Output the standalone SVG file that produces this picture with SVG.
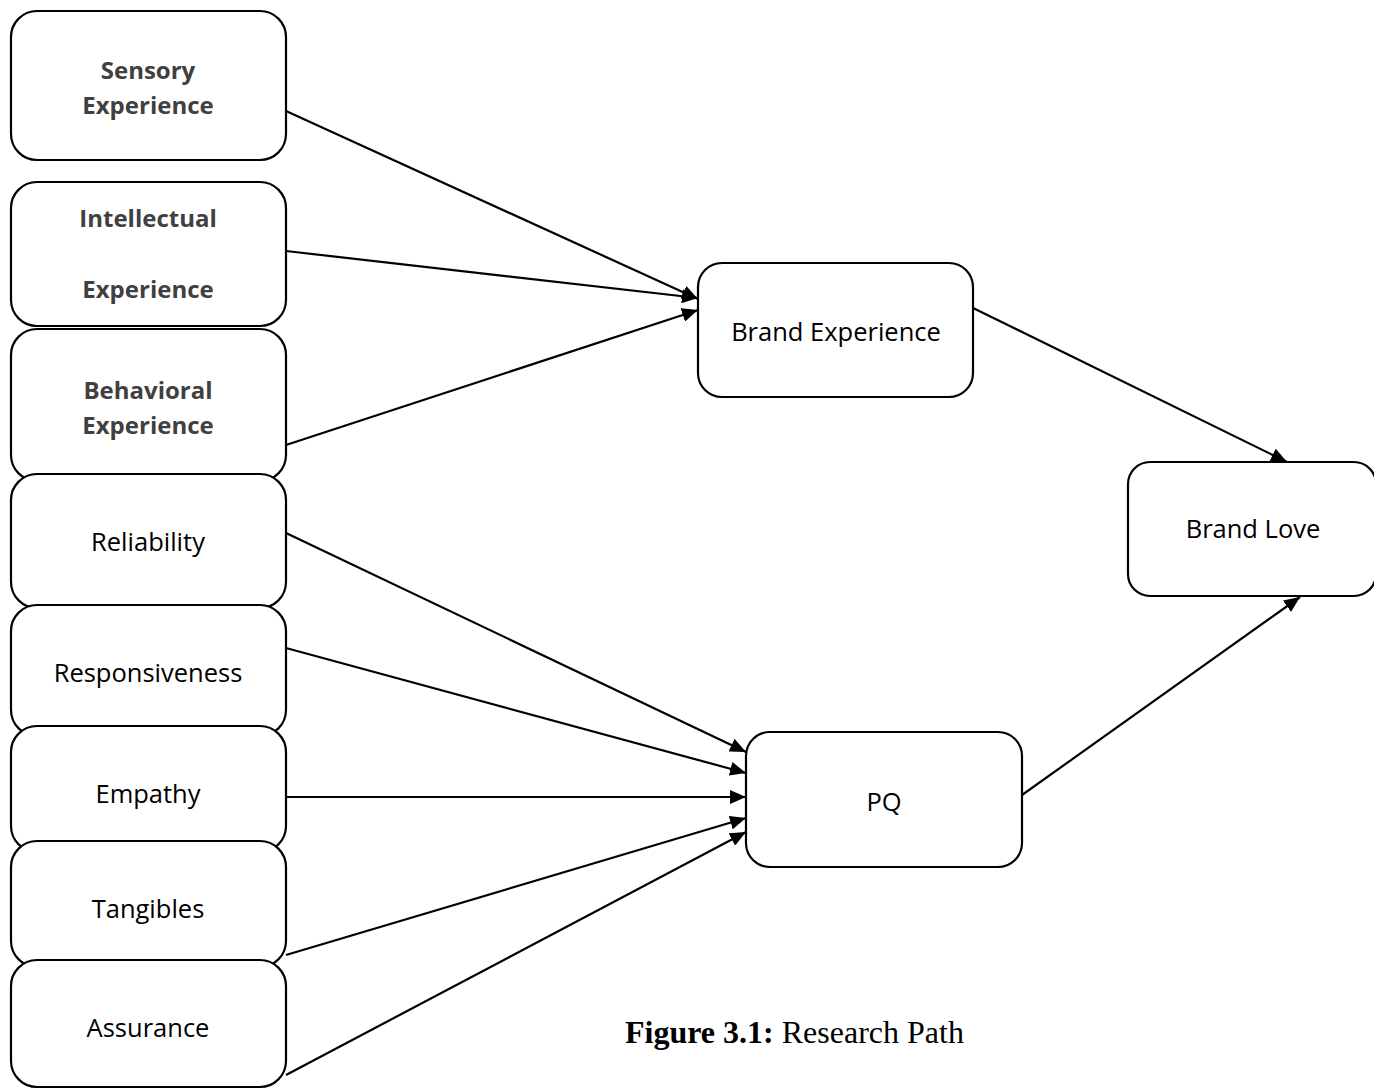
<svg xmlns="http://www.w3.org/2000/svg" width="1374" height="1090" viewBox="0 0 1374 1090">
<defs>
<marker id="ah" viewBox="0 0 16 14" refX="16" refY="7" markerWidth="16" markerHeight="14" markerUnits="userSpaceOnUse" orient="auto">
<path d="M0,0 L16,7 L0,14 z" fill="#000"/>
</marker>
<style>
.box{fill:#fff;stroke:#000;stroke-width:2.2}
.t{font-family:"Open Sans","Liberation Sans",sans-serif;font-size:25.5px;fill:#000;text-anchor:middle}
.b{font-weight:bold;font-size:24px;fill:#404040}
.c{stroke:#000;stroke-width:2.2;fill:none;marker-end:url(#ah)}
</style>
</defs>
<rect width="1374" height="1090" fill="#fff"/>
<g id="sensory"><rect class="box" x="11" y="11" width="275" height="149" rx="26"/><text class="t b" x="148" y="79">Sensory</text><text class="t b" x="148" y="114">Experience</text></g>
<g id="intellectual"><rect class="box" x="11" y="182" width="275" height="144" rx="26"/><text class="t b" x="148" y="227">Intellectual</text><text class="t b" x="148" y="298">Experience</text></g>
<g id="behavioral"><rect class="box" x="11" y="329" width="275" height="152" rx="26"/><text class="t b" x="148" y="399">Behavioral</text><text class="t b" x="148" y="434">Experience</text></g>
<g id="reliability"><rect class="box" x="11" y="474" width="275" height="134" rx="26"/><text class="t" x="148" y="551">Reliability</text></g>
<g id="responsiveness"><rect class="box" x="11" y="605" width="275" height="131" rx="26"/><text class="t" x="148" y="682">Responsiveness</text></g>
<g id="empathy"><rect class="box" x="11" y="726" width="275" height="126" rx="26"/><text class="t" x="148" y="803">Empathy</text></g>
<g id="tangibles"><rect class="box" x="11" y="841" width="275" height="126" rx="26"/><text class="t" x="148" y="918">Tangibles</text></g>
<g id="assurance"><rect class="box" x="11" y="960" width="275" height="127" rx="26"/><text class="t" x="148" y="1037">Assurance</text></g>
<g id="brand-experience"><rect class="box" x="698" y="263" width="275" height="134" rx="24"/><text class="t" x="836" y="341">Brand Experience</text></g>
<g id="pq"><rect class="box" x="746" y="732" width="276" height="135" rx="24"/><text class="t" x="884" y="811">PQ</text></g>
<g id="brand-love"><rect class="box" x="1128" y="462" width="248" height="134" rx="22"/><text class="t" x="1253" y="538">Brand Love</text></g>
<g id="connectors">
<line class="c" x1="286" y1="111" x2="698" y2="299"/>
<line class="c" x1="286" y1="251" x2="698" y2="298"/>
<line class="c" x1="286" y1="445" x2="698" y2="310"/>
<line class="c" x1="973" y1="308" x2="1287" y2="462"/>
<line class="c" x1="286" y1="533" x2="746" y2="752"/>
<line class="c" x1="286" y1="648" x2="746" y2="773"/>
<line class="c" x1="286" y1="797" x2="746" y2="797"/>
<line class="c" x1="286" y1="955" x2="746" y2="818"/>
<line class="c" x1="286" y1="1075" x2="746" y2="832"/>
<line class="c" x1="1022" y1="795" x2="1300" y2="597"/>
</g>
<text x="625" y="1043" font-family="'Liberation Serif',serif" font-size="32" fill="#000"><tspan font-weight="bold">Figure 3.1:</tspan> Research Path</text>
</svg>
